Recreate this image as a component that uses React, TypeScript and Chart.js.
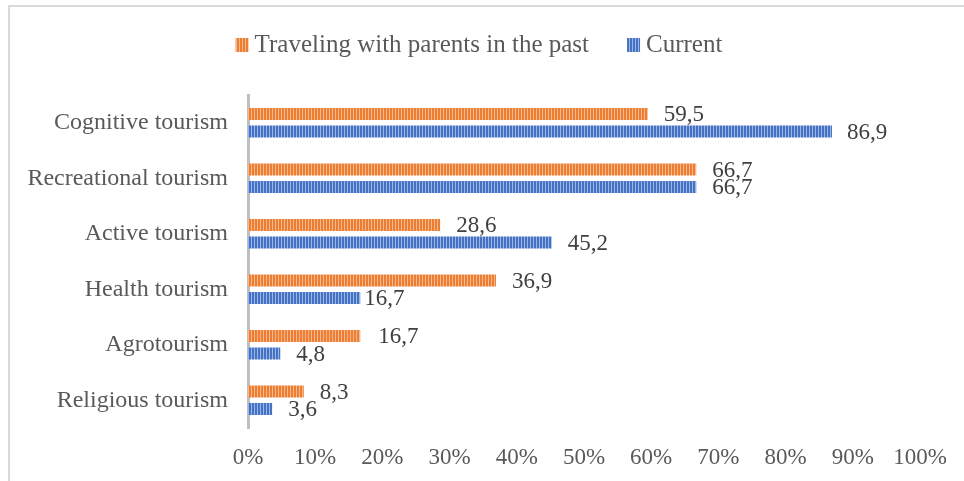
import React, { useEffect, useRef } from "react";
import { Chart, registerables } from "chart.js";

Chart.register(...registerables);

const categories = [
  "Cognitive tourism",
  "Recreational tourism",
  "Active tourism",
  "Health tourism",
  "Agrotourism",
  "Religious tourism",
];
const seriesNames = ["Traveling with parents in the past", "Current"];
const pastValues = [59.5, 66.7, 28.6, 36.9, 16.7, 8.3];
const currentValues = [86.9, 66.7, 45.2, 16.7, 4.8, 3.6];
const xMin = 0;
const xMax = 100;
const xStep = 10;

// horizontal offsets of the value labels (px), as placed in the reference
const pastLabelDx = [16, 16, 16, 16, 18, 16];
const currentLabelDx = [15, 16, 16, 4, 16, 16];

const FONT = '"Liberation Serif", "Times New Roman", serif';
const ORANGE = "#ED7D31";
const ORANGE_LIGHT = "#F6B98F";
const BLUE = "#4472C4";
const BLUE_LIGHT = "#9DB5E3";

function makeStripes(ctx: CanvasRenderingContext2D, base: string, light: string) {
  const tile = document.createElement("canvas");
  tile.width = 3;
  tile.height = 3;
  const t = tile.getContext("2d")!;
  t.fillStyle = base;
  t.fillRect(0, 0, 3, 3);
  t.fillStyle = light;
  t.fillRect(2, 0, 1, 3);
  return ctx.createPattern(tile, "repeat") || base;
}

const valueLabelPlugin = {
  id: "valueLabels",
  afterDatasetsDraw(chart: any) {
    const ctx = chart.ctx;
    ctx.save();
    ctx.font = `23px ${FONT}`;
    ctx.fillStyle = "#404040";
    ctx.textAlign = "left";
    ctx.textBaseline = "middle";
    chart.data.datasets.forEach((ds: any, di: number) => {
      const meta = chart.getDatasetMeta(di);
      const dxs = di === 0 ? pastLabelDx : currentLabelDx;
      meta.data.forEach((el: any, i: number) => {
        const v = ds.data[i] as number;
        const txt = v.toFixed(1).replace(".", ",");
        ctx.fillText(txt, el.x + dxs[i], el.y + 1);
      });
    });
    ctx.restore();
  },
};

const legendPlugin = {
  id: "customLegend",
  afterDraw(chart: any) {
    const ctx = chart.ctx;
    ctx.save();
    ctx.font = `25px ${FONT}`;
    ctx.textBaseline = "middle";
    ctx.textAlign = "left";
    const box = 13;
    const gap = 6;
    const between = 38;
    const items = chart.data.datasets.map((ds: any) => ({
      label: ds.label,
      color: ds.legendColor,
      light: ds.legendLight,
      w: box + gap + ctx.measureText(ds.label).width,
    }));
    const total = items.reduce((s: number, it: any) => s + it.w, 0) + between * (items.length - 1);
    let x = 479 - total / 2;
    const cy = 45;
    items.forEach((it: any) => {
      ctx.fillStyle = makeStripes(ctx, it.color, it.light);
      ctx.fillRect(x, cy - 7, box, 14);
      ctx.fillStyle = "#595959";
      ctx.fillText(it.label, x + box + gap, cy);
      x += it.w + between;
    });
    ctx.restore();
  },
};

export default function App() {
  const canvasRef = useRef<HTMLCanvasElement | null>(null);

  useEffect(() => {
    const canvas = canvasRef.current!;
    const ctx = canvas.getContext("2d")!;
    const chart = new Chart(ctx, {
      type: "bar",
      data: {
        labels: categories,
        datasets: [
          {
            label: seriesNames[0],
            data: pastValues,
            backgroundColor: makeStripes(ctx, ORANGE, ORANGE_LIGHT) as any,
            borderWidth: 0,
            categoryPercentage: 0.63,
            barPercentage: 0.69,
            legendColor: ORANGE,
            legendLight: ORANGE_LIGHT,
          } as any,
          {
            label: seriesNames[1],
            data: currentValues,
            backgroundColor: makeStripes(ctx, BLUE, BLUE_LIGHT) as any,
            borderWidth: 0,
            categoryPercentage: 0.63,
            barPercentage: 0.69,
            legendColor: BLUE,
            legendLight: BLUE_LIGHT,
          } as any,
        ],
      },
      options: {
        indexAxis: "y",
        responsive: false,
        animation: false,
        layout: { padding: { top: 95, right: 44, bottom: 0, left: 0 } },
        plugins: {
          legend: { display: false },
          tooltip: { enabled: false },
        },
        scales: {
          x: {
            type: "linear",
            min: xMin,
            max: xMax,
            grid: { display: false, drawTicks: false },
            border: { display: false },
            ticks: {
              stepSize: xStep,
              padding: 16,
              color: "#595959",
              font: { family: FONT, size: 23 },
              callback: (v: any) => `${v}%`,
            },
            afterFit: (scale: any) => {
              scale.height = 53;
            },
          },
          y: {
            type: "category",
            grid: { display: false, drawTicks: false },
            border: { display: true, color: "#BFBFBF", width: 3 },
            ticks: {
              padding: 20,
              color: "#595959",
              font: { family: FONT, size: 24 },
            },
            afterFit: (scale: any) => {
              scale.width = 248;
            },
          },
        },
      },
      plugins: [valueLabelPlugin, legendPlugin],
    });
    return () => chart.destroy();
  }, []);

  return (
    <div
      style={{
        position: "absolute",
        left: 0,
        top: 0,
        width: 964,
        height: 481,
        overflow: "hidden",
        background: "#fff",
      }}
    >
      <div
        style={{
          position: "absolute",
          left: 8,
          top: 5,
          width: 1000,
          height: 1000,
          border: "2px solid #D9D9D9",
        }}
      />
      <canvas
        ref={canvasRef}
        width={964}
        height={481}
        style={{ position: "absolute", left: 0, top: 0, width: 964, height: 481 }}
      />
    </div>
  );
}
